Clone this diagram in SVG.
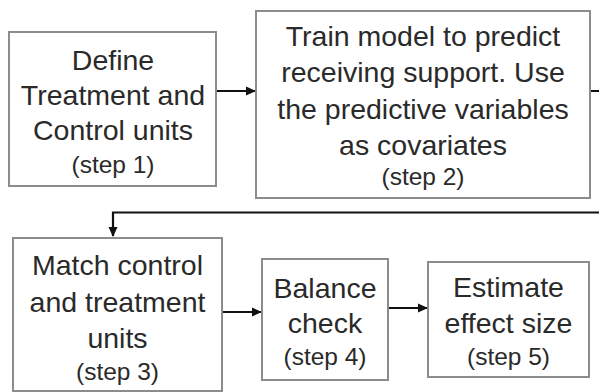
<svg xmlns="http://www.w3.org/2000/svg" width="599" height="392" viewBox="0 0 599 392">
<style>
.box{fill:#fff;stroke:#8c8c8c;stroke-width:2}
.t{font-family:"Liberation Sans",Arial,sans-serif;font-size:28.5px;fill:#2a2a2a;text-anchor:middle}
.s{font-family:"Liberation Sans",Arial,sans-serif;font-size:24.5px;fill:#2a2a2a;text-anchor:middle}
.c{fill:none;stroke:#111;stroke-width:2.2}
</style>
<defs>
<marker id="ah" markerWidth="10" markerHeight="10" refX="9" refY="5" orient="auto" markerUnits="userSpaceOnUse" viewBox="0 0 10 10">
<path d="M0,0.5 L10,5 L0,9.5 z" fill="#111"/>
</marker>
</defs>
<rect width="599" height="392" fill="#fff"/>
<g id="connectors">
<path class="c" d="M216,91 L255,91" marker-end="url(#ah)"/>
<path class="c" d="M591,91 L604,91 L604,212.5 L113,212.5 L113,236" marker-end="url(#ah)"/>
<path class="c" d="M223,312 L261,312" marker-end="url(#ah)"/>
<path class="c" d="M389,308 L427,308" marker-end="url(#ah)"/>
</g>
<g id="step1">
<rect class="box" x="9" y="32" width="207" height="154"/>
<text class="t" x="113" y="70">Define</text>
<text class="t" x="113" y="105">Treatment and</text>
<text class="t" x="113" y="140">Control units</text>
<text class="s" x="113" y="173">(step 1)</text>
</g>
<g id="step2">
<rect class="box" x="256" y="11" width="334" height="187"/>
<text class="t" x="423" y="46">Train model to predict</text>
<text class="t" x="423" y="82">receiving support. Use</text>
<text class="t" x="423" y="119">the predictive variables</text>
<text class="t" x="423" y="155">as covariates</text>
<text class="s" x="423" y="185">(step 2)</text>
</g>
<g id="step3">
<rect class="box" x="13" y="238" width="209" height="153"/>
<text class="t" x="117.5" y="275">Match control</text>
<text class="t" x="117.5" y="312">and treatment</text>
<text class="t" x="117.5" y="348">units</text>
<text class="s" x="117.5" y="380">(step 3)</text>
</g>
<g id="step4">
<rect class="box" x="262" y="259" width="126" height="121"/>
<text class="t" x="325" y="298">Balance</text>
<text class="t" x="325" y="333">check</text>
<text class="s" x="325" y="365">(step 4)</text>
</g>
<g id="step5">
<rect class="box" x="428" y="262" width="161" height="115"/>
<text class="t" x="508.5" y="297">Estimate</text>
<text class="t" x="508.5" y="333">effect size</text>
<text class="s" x="508.5" y="365">(step 5)</text>
</g>
</svg>
